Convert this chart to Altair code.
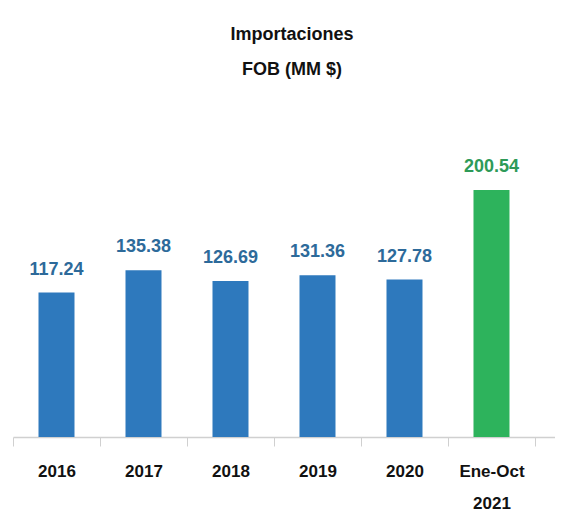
import altair as alt
import pandas as pd

categories = ["2016", "2017", "2018", "2019", "2020", "Ene-Oct 2021"]
values = [117.24, 135.38, 126.69, 131.36, 127.78, 200.54]
bar_colors = ["#2e79bd", "#2e79bd", "#2e79bd", "#2e79bd", "#2e79bd", "#2db35c"]
label_colors = ["#2d6a9a", "#2d6a9a", "#2d6a9a", "#2d6a9a", "#2d6a9a", "#2e9a58"]

df = pd.DataFrame({"cat": categories, "val": values, "bc": bar_colors, "lc": label_colors})
df["lbl"] = df["val"].map(lambda v: f"{v:.2f}")

FONT = "Liberation Sans"

x = alt.X("cat:N", sort=categories,
          scale=alt.Scale(paddingInner=0, paddingOuter=0.115, align=0),
          axis=alt.Axis(title=None, labelAngle=0, labelFont=FONT, labelFontSize=17,
                        labelFontWeight="bold", labelColor="#111111", labelPadding=17,
                        labelLineHeight=32,
                        labelExpr="datum.label == 'Ene-Oct 2021' ? ['Ene-Oct', '2021'] : datum.label",
                        tickBand="extent", tickSize=9, tickColor="#d0d0d0", domainColor="#d0d0d0",
                        domainWidth=1.5))
y = alt.Y("val:Q", scale=alt.Scale(domain=[0, 250]), axis=None)

bars = alt.Chart(df).mark_bar(size=36).encode(x=x, y=y, color=alt.Color("bc:N", scale=None))
labels = alt.Chart(df).mark_text(dy=-23, font=FONT, fontSize=18, fontWeight="bold").encode(
    x=x, y=y, text="lbl:N", color=alt.Color("lc:N", scale=None))

chart = (bars + labels).properties(
    width=542, height=308,
    autosize=alt.AutoSizeParams(type="none"),
    padding={"left": 5, "top": 121, "right": 0, "bottom": 78},
    title=alt.TitleParams(["Importaciones", "FOB (MM $)"], font=FONT, fontSize=18,
                          fontWeight="bold", color="#111111", lineHeight=35,
                          anchor="middle", dx=8, offset=50),
).configure_view(stroke=None)

chart.save("out.html", embed_options={"renderer": "svg", "actions": False})
